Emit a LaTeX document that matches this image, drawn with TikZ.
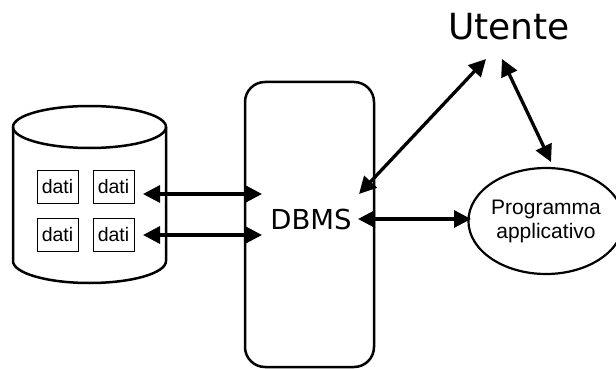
\documentclass[tikz,border=0pt]{standalone}
\usepackage{fontspec}
\setmainfont{DejaVu Sans}
\newfontfamily\arialfont{Liberation Sans}
\usetikzlibrary{arrows.meta,shapes.geometric}
\tikzset{
  outline/.style={draw=black, line width=2.5pt},
  databox/.style={draw=black, line width=1pt, minimum width=41pt, minimum height=33pt, inner sep=0pt, font=\arialfont\fontsize{19.5}{22}\selectfont},
  dblarrow/.style={line width=3.3pt, {Triangle[length=17pt,width=17pt]}-{Triangle[length=17pt,width=17pt]}},
}
\begin{document}
\begin{tikzpicture}[x=1pt,y=-1pt]
\useasboundingbox (0,0) rectangle (616,369);
% cylinder (database)
\draw[outline, fill=white] (13,127) -- (13,261) arc[start angle=180, end angle=0, x radius=76.5, y radius=22] -- (166,127);
\draw[outline] (89.5,127) ellipse[x radius=76.5, y radius=21];
% dati boxes
\node[databox] (d11) at (57.5,186.5) {dati};
\node[databox] (d12) at (113.5,186.5) {dati};
\node[databox] (d21) at (57.5,234.5) {dati};
\node[databox] (d22) at (113.5,234.5) {dati};
% DBMS box
\node[outline, rounded corners=20pt, minimum width=129pt, minimum height=285pt, inner sep=0pt] (dbms) at (309.5,224.5) {};
\node[font=\fontsize{27.5}{30}\selectfont, inner sep=0pt] (dbmstext) at (311,219) {DBMS};
% Utente
\node[font=\fontsize{36}{40}\selectfont, inner sep=0pt] (utente) at (509,27) {Utente};
% Programma applicativo
\node[ellipse, draw=black, line width=2.2pt, minimum width=136pt, minimum height=106pt, inner sep=0pt, align=center, font=\arialfont\fontsize{21}{24}\selectfont] (prog) at (546,221) {Programma\\applicativo};
% connector end points
\coordinate (a1l) at (143,194);
\coordinate (a1r) at (262,194);
\coordinate (a2l) at (143,235);
\coordinate (a2r) at (262,235);
\coordinate (u1) at (486,59);
\coordinate (u1d) at (359,194);
\coordinate (u2) at (502,59);
\coordinate (u2p) at (551,162);
\coordinate (dp) at (358,219);
\coordinate (pp) at (471,219);
% connectors
\draw[dblarrow] (a1l) -- (a1r);
\draw[dblarrow] (a2l) -- (a2r);
\draw[dblarrow] (u1) -- (u1d);
\draw[dblarrow] (u2) -- (u2p);
\draw[dblarrow] (dp) -- (pp);
\end{tikzpicture}
\end{document}
